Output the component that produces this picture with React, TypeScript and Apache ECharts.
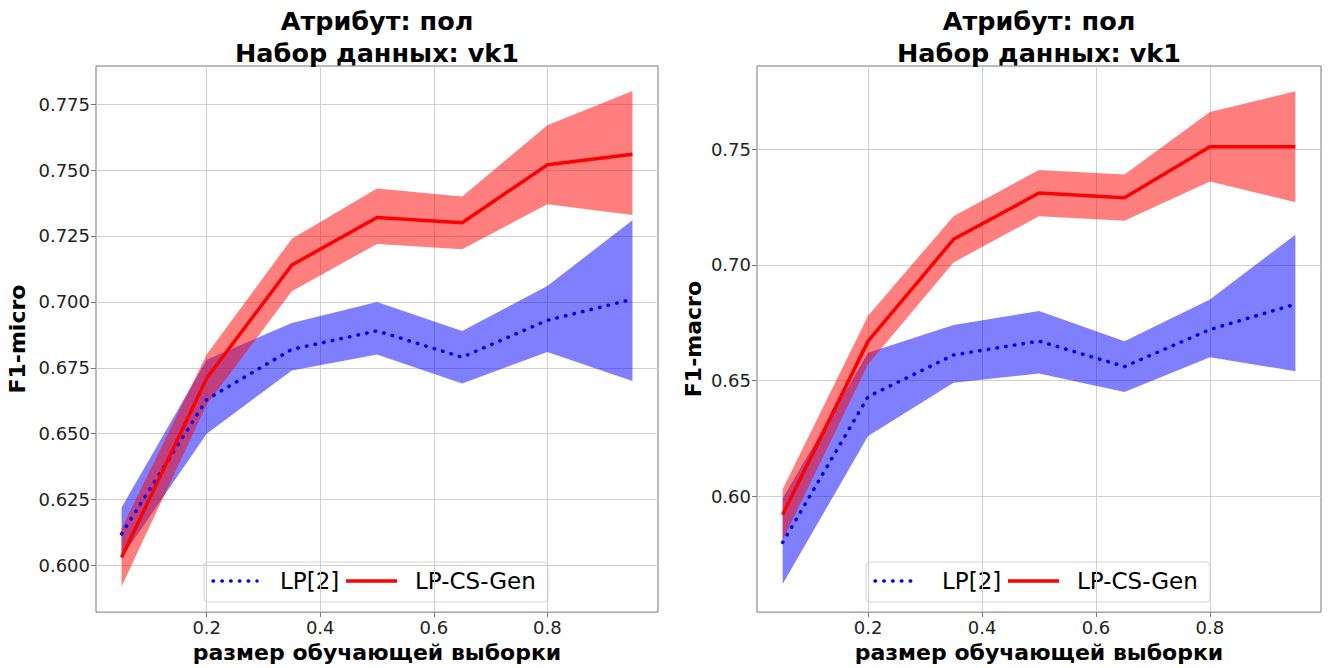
import React, { useEffect, useRef } from 'react';
import * as echarts from 'echarts';

// ---- data ----
const xValues = [0.05, 0.2, 0.35, 0.5, 0.65, 0.8, 0.95];
const xTicks = [0.2, 0.4, 0.6, 0.8];
const microTicks = [0.6, 0.625, 0.65, 0.675, 0.7, 0.725, 0.75, 0.775];
const macroTicks = [0.6, 0.65, 0.7, 0.75];

const lpMicro = [0.612, 0.663, 0.682, 0.689, 0.679, 0.693, 0.701];
const lpMicroLo = [0.603, 0.650, 0.674, 0.680, 0.669, 0.681, 0.670];
const lpMicroHi = [0.622, 0.678, 0.692, 0.700, 0.689, 0.706, 0.731];
const csMicro = [0.603, 0.671, 0.714, 0.732, 0.730, 0.752, 0.756];
const csMicroLo = [0.592, 0.661, 0.704, 0.722, 0.720, 0.737, 0.733];
const csMicroHi = [0.614, 0.680, 0.724, 0.743, 0.740, 0.767, 0.780];

const lpMacro = [0.580, 0.643, 0.661, 0.667, 0.656, 0.672, 0.683];
const lpMacroLo = [0.562, 0.626, 0.649, 0.653, 0.645, 0.660, 0.654];
const lpMacroHi = [0.599, 0.662, 0.674, 0.680, 0.667, 0.685, 0.713];
const csMacro = [0.592, 0.667, 0.711, 0.731, 0.729, 0.751, 0.751];
const csMacroLo = [0.581, 0.657, 0.701, 0.721, 0.719, 0.736, 0.727];
const csMacroHi = [0.603, 0.678, 0.721, 0.741, 0.739, 0.766, 0.775];

const seriesNames = ['LP[2]', 'LP-CS-Gen'];
const titleText = 'Атрибут: пол\nНабор данных: vk1';
const xLabel = 'размер обучающей выборки';
const yLabels = ['F1-micro', 'F1-macro'];

const FONT = 'DejaVu Sans';
const BLUE = '#0000ff';
const RED = '#ff0000';

function band(idx: number, lo: number[], hi: number[], color: string, z: number) {
  return {
    type: 'custom',
    xAxisIndex: idx,
    yAxisIndex: idx,
    z,
    clip: true,
    silent: true,
    data: xValues.map((x, i) => [x, lo[i], hi[i]]),
    encode: { x: 0, y: [1, 2] },
    renderItem: (params: any, api: any) => {
      if (params.dataIndex !== 0) return null;
      const upper = xValues.map((x, i) => api.coord([x, hi[i]]));
      const lower = xValues.map((x, i) => api.coord([x, lo[i]])).reverse();
      return {
        type: 'polygon',
        shape: { points: upper.concat(lower) },
        style: { fill: color, opacity: 0.5 },
      };
    },
  };
}

function line(idx: number, name: string, vals: number[], color: string, dotted: boolean, z: number) {
  return {
    type: 'line',
    name,
    xAxisIndex: idx,
    yAxisIndex: idx,
    z,
    showSymbol: false,
    symbol: 'none',
    data: xValues.map((x, i) => [x, vals[i]]),
    lineStyle: dotted
      ? { color, width: 3.5, type: [0.5, 8.3], cap: 'round' }
      : { color, width: 3.5 },
  };
}

function xAxis(gridIndex: number) {
  return {
    type: 'value',
    gridIndex,
    min: 0.005,
    max: 0.995,
    name: xLabel,
    nameLocation: 'middle',
    nameGap: 27,
    nameTextStyle: { fontFamily: FONT, fontSize: 22, fontWeight: 'bold', color: '#000' },
    axisLine: { show: false },
    axisTick: { show: true, length: 5, lineStyle: { color: '#777' }, customValues: xTicks },
    axisLabel: {
      customValues: xTicks,
      formatter: (v: number) => v.toFixed(1),
      fontFamily: FONT,
      fontSize: 18,
      color: '#222',
      margin: 6,
    },
    splitLine: { show: true, lineStyle: { color: '#d0d0d0', width: 1 } },
  };
}

function yAxis(gridIndex: number, min: number, max: number, ticks: number[], digits: number, name: string, gap: number) {
  return {
    type: 'value',
    gridIndex,
    min,
    max,
    name,
    nameLocation: 'middle',
    nameGap: gap,
    nameRotate: 90,
    nameTextStyle: { fontFamily: FONT, fontSize: 22, fontWeight: 'bold', color: '#000' },
    axisLine: { show: false },
    axisTick: { show: true, length: 5, lineStyle: { color: '#777' }, customValues: ticks },
    axisLabel: {
      customValues: ticks,
      formatter: (v: number) => v.toFixed(digits),
      fontFamily: FONT,
      fontSize: 18,
      color: '#222',
      margin: 6,
    },
    splitLine: { show: true, lineStyle: { color: '#d0d0d0', width: 1 } },
  };
}

function legendGroup(offsetX: number) {
  const y = 581;
  return {
    type: 'group',
    x: offsetX,
    y: 0,
    z: 100,
    children: [
      {
        type: 'rect',
        shape: { x: 204, y: 562, width: 344, height: 40, r: 4 },
        style: { fill: 'rgba(255,255,255,0.85)', stroke: '#d5d5d5', lineWidth: 1 },
      },
      {
        type: 'line',
        shape: { x1: 213, y1: y, x2: 257, y2: y },
        style: { stroke: BLUE, lineWidth: 3.5, lineDash: [0.5, 8.3], lineCap: 'round' },
      },
      {
        type: 'text',
        x: 280,
        y,
        style: { text: seriesNames[0], font: `23px "${FONT}"`, fill: '#000', verticalAlign: 'middle', align: 'left' },
      },
      {
        type: 'line',
        shape: { x1: 346, y1: y, x2: 397, y2: y },
        style: { stroke: RED, lineWidth: 3.5 },
      },
      {
        type: 'text',
        x: 415,
        y,
        style: { text: seriesNames[1], font: `23px "${FONT}"`, fill: '#000', verticalAlign: 'middle', align: 'left' },
      },
    ],
  };
}

function titleGraphic(cx: number) {
  return {
    type: 'text',
    x: cx,
    y: 5,
    z: 100,
    style: {
      text: titleText,
      font: `bold 25.5px "${FONT}"`,
      fill: '#000',
      align: 'center',
      verticalAlign: 'top',
      lineHeight: 32,
    },
  };
}

export default function App() {
  const ref = useRef<HTMLDivElement>(null);
  useEffect(() => {
    document.body.style.margin = '0';
    if (!ref.current) return;
    const chart = echarts.init(ref.current, undefined, { renderer: 'svg' });
    const option: any = {
      animation: false,
      backgroundColor: '#fff',
      textStyle: { fontFamily: FONT },
      grid: [
        { left: 96, right: 673, top: 66, bottom: 52, show: true, borderColor: '#777', borderWidth: 1, backgroundColor: 'transparent' },
        { left: 757, right: 10, top: 66, bottom: 52, show: true, borderColor: '#777', borderWidth: 1, backgroundColor: 'transparent' },
      ],
      xAxis: [xAxis(0), xAxis(1)],
      yAxis: [
        yAxis(0, 0.5823, 0.7895, microTicks, 3, yLabels[0], 68),
        yAxis(1, 0.5499, 0.7859, macroTicks, 2, yLabels[1], 53),
      ],
      series: [
        band(0, lpMicroLo, lpMicroHi, BLUE, 1),
        band(0, csMicroLo, csMicroHi, RED, 2),
        line(0, seriesNames[0], lpMicro, BLUE, true, 3),
        line(0, seriesNames[1], csMicro, RED, false, 4),
        band(1, lpMacroLo, lpMacroHi, BLUE, 1),
        band(1, csMacroLo, csMacroHi, RED, 2),
        line(1, seriesNames[0], lpMacro, BLUE, true, 3),
        line(1, seriesNames[1], csMacro, RED, false, 4),
      ],
      graphic: [titleGraphic(377), titleGraphic(1039), legendGroup(0), legendGroup(662)],
    };
    chart.setOption(option);
    return () => chart.dispose();
  }, []);
  return <div ref={ref} style={{ width: 1331, height: 668 }} />;
}
